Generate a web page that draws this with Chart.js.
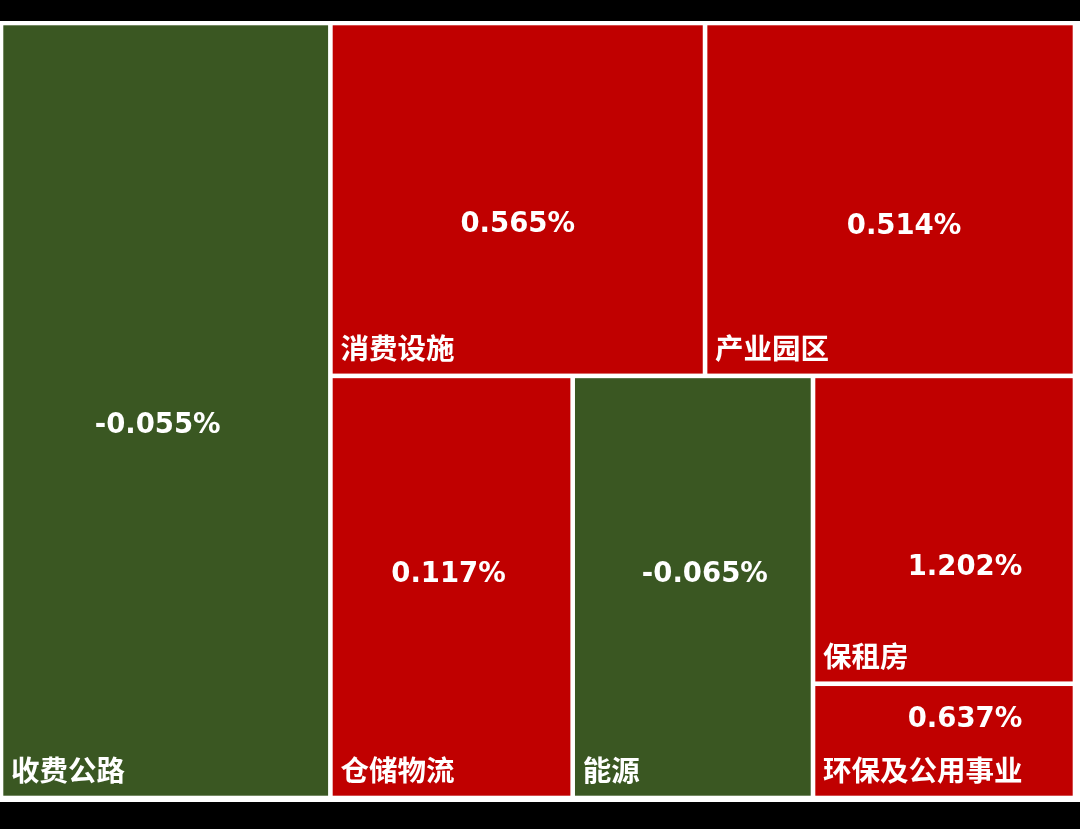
<!DOCTYPE html>
<html lang="zh-CN">
<head>
<meta charset="utf-8">
<title>REITs 板块涨跌</title>
<script src="https://cdn.jsdelivr.net/npm/chart.js@4/dist/chart.umd.min.js"></script>
<style>
  html, body { margin: 0; padding: 0; background: #000; }
  body { width: 1080px; height: 829px; position: relative; overflow: hidden; }
  #sheet { position: absolute; left: 0; top: 21px; width: 1080px; height: 781px; background: #fff; }
  #box { position: absolute; left: 1px; top: 2px; width: 1074px; height: 775px; }
</style>
</head>
<body>
<div id="sheet">
  <div id="box"><canvas id="tree"></canvas></div>
</div>
<script>
// ── Data ─────────────────────────────────────────────────────────────────────

const categories = ['收费公路', '消费设施', '产业园区', '仓储物流', '能源', '保租房', '环保及公用事业'];
const weights    = [30.7, 15.9, 15.7, 12.3, 12.2, 9.7, 3.6];        // block size (share)
const changes    = [-0.055, 0.565, 0.514, 0.117, -0.065, 1.202, 0.637]; // % change

// slice-and-dice tree: 'h' splits side by side, 'v' stacks top to bottom
const layoutTree = { dir: 'h', items: [0, { dir: 'v', items: [
  { dir: 'h', items: [1, 2] },
  { dir: 'h', items: [3, 4, { dir: 'v', items: [5, 6] }] },
] }] };

// ── Layout in data units (0..100 on both scales) ─────────────────────────────

function nodeWeight(n) {
  return typeof n === 'number' ? weights[n] : n.items.reduce((s, c) => s + nodeWeight(c), 0);
}

function layout(n, x0, y0, x1, y1, out) {
  if (typeof n === 'number') { out[n] = { x0, y0, x1, y1 }; return out; }
  const total = nodeWeight(n);
  let pos = n.dir === 'h' ? x0 : y0;
  n.items.forEach(c => {
    const span = (nodeWeight(c) / total) * (n.dir === 'h' ? x1 - x0 : y1 - y0);
    if (n.dir === 'h') layout(c, pos, y0, pos + span, y1, out);
    else               layout(c, x0, pos, x1, pos + span, out);
    pos += span;
  });
  return out;
}

const cells = layout(layoutTree, 0, 0, 100, 100, []);

// ── Styles ───────────────────────────────────────────────────────────────────

const UP   = '#c00000';
const DOWN = '#3a5722';
// nudges of the value label from the block centre (px)
const valueNudge = [[-8, 15], [0, 25], [14, 27], [-3, -12], [12, -12], [21, 38], [21, -21]];

const treemapPlugin = {
  id: 'treemapCells',
  beforeDatasetsDraw(chart) {
    const { ctx, scales: { x, y } } = chart;
    const gap = 2.3;
    ctx.save();
    cells.forEach((c, i) => {
      const l = x.getPixelForValue(c.x0), r = x.getPixelForValue(c.x1);
      const t = y.getPixelForValue(c.y0), b = y.getPixelForValue(c.y1);
      ctx.fillStyle = changes[i] >= 0 ? UP : DOWN;
      ctx.fillRect(l + gap, t + gap, r - l - 2 * gap, b - t - 2 * gap);

      ctx.fillStyle = '#fff';
      ctx.textBaseline = 'middle';

      ctx.font = 'bold 27.5px "DejaVu Sans"';
      ctx.textAlign = 'center';
      const [dx, dy] = valueNudge[i];
      ctx.fillText(changes[i].toFixed(3) + '%', (l + r) / 2 + dx, (t + b) / 2 + dy);

      ctx.font = 'bold 28.5px "Noto Sans CJK SC"';
      ctx.textAlign = 'left';
      ctx.fillText(categories[i], l + 10, b - 28);
    });
    ctx.restore();
  },
};

new Chart(document.getElementById('tree'), {
  type: 'scatter',
  data: {
    labels: categories,
    datasets: [{
      data: cells.map(c => ({ x: (c.x0 + c.x1) / 2, y: (c.y0 + c.y1) / 2 })),
      pointRadius: 0,
    }],
  },
  options: {
    responsive: true,
    maintainAspectRatio: false,
    animation: false,
    layout: { padding: 0 },
    events: [],
    scales: {
      x: { type: 'linear', min: 0, max: 100, display: false },
      y: { type: 'linear', min: 0, max: 100, reverse: true, display: false },
    },
    plugins: { legend: { display: false }, tooltip: { enabled: false } },
  },
  plugins: [treemapPlugin],
});
</script>
</body>
</html>
